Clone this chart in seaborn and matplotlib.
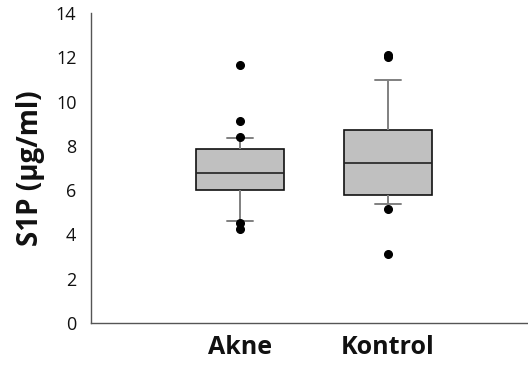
import matplotlib
matplotlib.use("Agg")
import matplotlib.pyplot as plt
import seaborn as sns
import pandas as pd

categories = ["Akne", "Kontrol"]
akne_values = [4.25, 4.50, 4.62, 5.2, 5.7, 6.01, 6.2, 6.4, 6.55, 6.7, 6.79,
               7.0, 7.2, 7.45, 7.7, 7.86, 8.1, 8.37, 8.40, 9.12, 11.65]
kontrol_values = [3.12, 5.15, 5.36, 5.7, 5.9, 6.4, 6.9, 7.21, 7.6, 8.1, 8.5,
                  8.9, 10.96, 12.0, 12.1]
y_ticks = [0, 2, 4, 6, 8, 10, 12, 14]

df = pd.DataFrame({
    "group": [categories[0]] * len(akne_values) + [categories[1]] * len(kontrol_values),
    "value": akne_values + kontrol_values,
})

sns.set_style("white")
plt.rcParams["font.family"] = ["Open Sans", "DejaVu Sans"]

fig = plt.figure(figsize=(5.28, 3.67), dpi=100)
ax = fig.add_axes([91/528, 1 - 323/367, 1 - 91/528, (323 - 13)/367])

sns.boxplot(data=df, x="group", y="value", order=categories, ax=ax,
            whis=(8, 88), width=0.6, color="#C0C0C0", saturation=1,
            linewidth=1.2, linecolor="#000000",
            boxprops=dict(facecolor="#C0C0C0", edgecolor="#111111", linewidth=1.2),
            medianprops=dict(color="#222222", linewidth=1.2),
            whiskerprops=dict(color="#808080", linewidth=1.4),
            capprops=dict(color="#808080", linewidth=1.4),
            capwidths=0.18,
            flierprops=dict(marker="o", markerfacecolor="black", markeredgecolor="black",
                            markersize=5.5))

ax.set_xlim(-1.007, 1.946)
ax.set_ylim(0, 14)
ax.set_yticks(y_ticks)
ax.set_yticklabels([str(t) for t in y_ticks], fontsize=13, color="#111111")
ax.tick_params(axis="y", direction="inout", length=9, width=0.8, color="#555555", pad=6)
ax.tick_params(axis="x", length=0, pad=9)
for lbl in ax.get_xticklabels():
    lbl.set_fontsize(18)
    lbl.set_fontweight("bold")
    lbl.set_color("#111111")

for s in ["top", "right"]:
    ax.spines[s].set_visible(False)
for s in ["left", "bottom"]:
    ax.spines[s].set_color("#555555")
    ax.spines[s].set_linewidth(1.0)

ax.set_xlabel("")
ax.set_ylabel("S1P (µg/ml)", fontsize=20, fontweight="bold", labelpad=8, color="#111111")

fig.savefig("out.png", dpi=100)
